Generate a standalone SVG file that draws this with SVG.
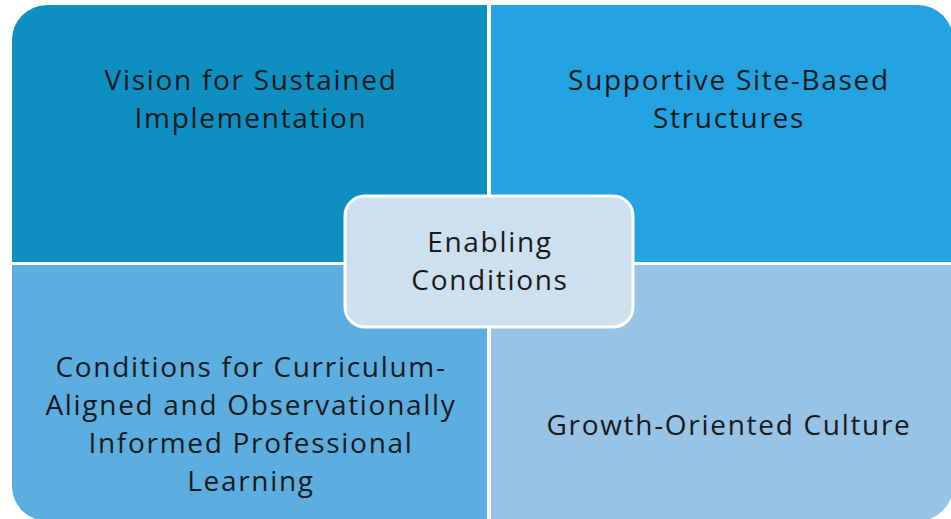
<svg xmlns="http://www.w3.org/2000/svg" width="951" height="519" viewBox="0 0 951 519">
<style>
.t{font-family:"Open Sans","Noto Sans",sans-serif;font-size:28px;letter-spacing:1.7px;fill:#1a1a1a;text-anchor:middle}
</style>
<rect width="951" height="519" fill="#ffffff"/>
<g id="vision">
<path d="M12 40 A35 35 0 0 1 47 5 L487 5 L487 262 L12 262 Z" fill="#0d8fc2"/>
<text class="t" x="251" y="90">Vision for Sustained</text>
<text class="t" x="251" y="128">Implementation</text>
</g>
<g id="structures">
<path d="M491 5 L918 5 A35 35 0 0 1 953 40 L953 262 L491 262 Z" fill="#23a3e1"/>
<text class="t" x="729" y="90">Supportive Site-Based</text>
<text class="t" x="729" y="128">Structures</text>
</g>
<g id="learning">
<path d="M12 265 L487 265 L487 521 L47 521 A35 35 0 0 1 12 486 Z" fill="#5caee0"/>
<text class="t" x="251" y="377">Conditions for Curriculum-</text>
<text class="t" x="251" y="415">Aligned and Observationally</text>
<text class="t" x="251" y="453">Informed Professional</text>
<text class="t" x="251" y="491">Learning</text>
</g>
<g id="culture">
<path d="M491 265 L953 265 L953 486 A35 35 0 0 1 918 521 L491 521 Z" fill="#96c3e6"/>
<text class="t" x="729" y="435">Growth-Oriented Culture</text>
</g>
<g id="center">
<rect x="345" y="196" width="288" height="131" rx="20" fill="#cde0f0" stroke="#ffffff" stroke-width="3"/>
<text class="t" x="490" y="252">Enabling</text>
<text class="t" x="490" y="290">Conditions</text>
</g>
<g id="connectors"></g>
</svg>
